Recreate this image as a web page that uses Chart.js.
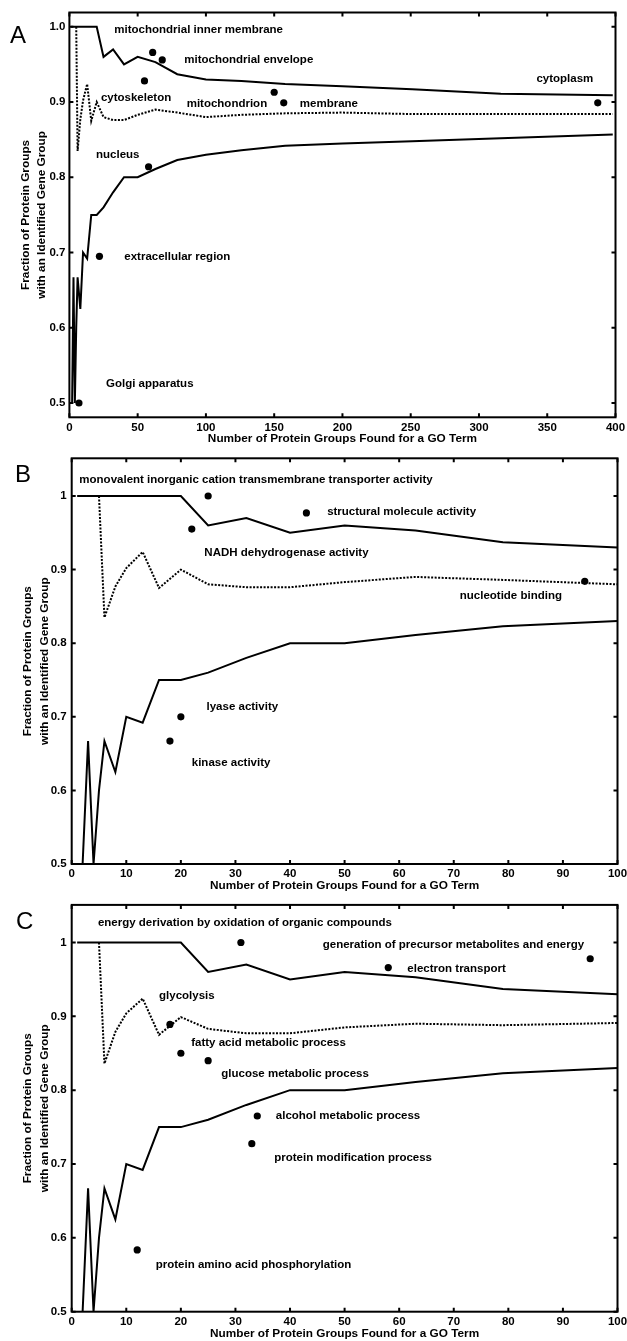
<!DOCTYPE html>
<html lang="en">
<head>
    <meta charset="UTF-8">
    <title>GO term identification fractions</title>
    <script src="https://cdn.jsdelivr.net/npm/chart.js"></script>
    <style>
        html, body { margin: 0; padding: 0; background: #fff; }
        #page { position: relative; width: 627px; height: 1341px; overflow: hidden; }
        .panel { position: absolute; left: 0; width: 627px; }
        .letter { position: absolute; font: 24px "Liberation Sans", Arial, sans-serif; line-height: 1; color: #000; }
    </style>
</head>
<body>
<div id="page">
    <div class="panel" style="top:0px;height:446px"><canvas id="chartA" width="627" height="446"></canvas></div>
    <div class="panel" style="top:446px;height:447px"><canvas id="chartB" width="627" height="447"></canvas></div>
    <div class="panel" style="top:893px;height:448px"><canvas id="chartC" width="627" height="448"></canvas></div>
    <div class="letter" style="left:10px;top:23px">A</div>
    <div class="letter" style="left:15px;top:462px">B</div>
    <div class="letter" style="left:16px;top:909px">C</div>
</div>

<script>
    // bins (number of protein groups) used by the reference curves
    const bins = [1, 2, 3, 4, 5, 6, 8, 10, 13, 16, 20, 25, 32, 40, 50, 63, 79, 100, 126, 158, 200, 251, 316, 398];

    // upper and lower solid curves (same in every panel)
    const upperCurve = [1, 1, 1, 1, 1, 1, 1, 1, 1, 1, 1, 0.960, 0.970, 0.950, 0.960, 0.953, 0.937, 0.930, 0.928, 0.924, 0.921, 0.917, 0.911, 0.909];
    const lowerCurve = [null, 0.5, 0.667, 0.5, 0.6, 0.667, 0.625, 0.700, 0.692, 0.750, 0.750, 0.760, 0.780, 0.800, 0.800, 0.811, 0.823, 0.830, 0.836, 0.842, 0.845, 0.848, 0.852, 0.857];

    // dotted curves
    const dottedAB = [null, null, null, null, 1, 0.835, 0.877, 0.902, 0.924, 0.875, 0.900, 0.880, 0.876, 0.876, 0.883, 0.890, 0.886, 0.880, 0.883, 0.885, 0.886, 0.884, 0.884, 0.884];
    const dottedC = [null, null, null, null, 1, 0.836, 0.879, 0.904, 0.924, 0.875, 0.899, 0.883, 0.877, 0.877, 0.885, 0.890, 0.888, 0.891];

    // panel A: cellular component terms
    const termsA = ['mitochondrial inner membrane', 'mitochondrial envelope', 'cytoskeleton', 'mitochondrion', 'membrane', 'cytoplasm', 'nucleus', 'extracellular region', 'Golgi apparatus'];
    const countsA = [61, 68, 55, 150, 157, 387, 58, 22, 7];
    const fracA = [0.966, 0.956, 0.928, 0.913, 0.899, 0.899, 0.814, 0.695, 0.500];
    const labelXA = [32.9, 84.1, 23.1, 85.9, 168.8, 342.1, 19.5, 40.2, 26.8];
    const labelYA = [0.9956, 0.956, 0.905, 0.898, 0.898, 0.9305, 0.830, 0.6946, 0.525];

    // panel B: molecular function terms
    const termsB = ['monovalent inorganic cation transmembrane transporter activity', 'NADH dehydrogenase activity', 'structural molecule activity', 'nucleotide binding', 'lyase activity', 'kinase activity'];
    const countsB = [25, 22, 43, 94, 20, 18];
    const fracB = [1.000, 0.955, 0.977, 0.884, 0.700, 0.667];
    const labelXB = [1.4, 24.3, 46.8, 71.1, 24.7, 22.0];
    const labelYB = [1.0217, 0.923, 0.9787, 0.8646, 0.713, 0.637];

    // panel C: biological process terms
    const termsC = ['energy derivation by oxidation of organic compounds', 'generation of precursor metabolites and energy', 'electron transport', 'glycolysis', 'fatty acid metabolic process', 'glucose metabolic process', 'alcohol metabolic process', 'protein modification process', 'protein amino acid phosphorylation'];
    const countsC = [31, 95, 58, 18, 20, 25, 34, 33, 12];
    const fracC = [1.000, 0.978, 0.966, 0.889, 0.850, 0.840, 0.765, 0.7275, 0.5836];
    const labelXC = [4.8, 46.0, 61.5, 16.0, 21.9, 27.4, 37.4, 37.1, 15.4];
    const labelYC = [1.0265, 0.997, 0.9648, 0.9277, 0.864, 0.8227, 0.765, 0.7085, 0.5633];

    // tick labels
    const xTicksA = [0, 50, 100, 150, 200, 250, 300, 350, 400];
    const xTicksBC = [0, 10, 20, 30, 40, 50, 60, 70, 80, 90, 100];
    const yTicks = [0.5, 0.6, 0.7, 0.8, 0.9, 1.0];

    const FONT = '"Liberation Sans", Arial, Helvetica, sans-serif';
    Chart.defaults.font.family = FONT;
    Chart.defaults.color = '#000';

    function points(ys, xMax) {
        const pts = [];
        ys.forEach((y, i) => {
            if (y !== null && bins[i] <= xMax) pts.push({ x: bins[i], y: y });
        });
        return pts;
    }

    // frame with inward ticks on all four sides
    const framePlugin = {
        id: 'frame',
        afterDatasetsDraw(chart) {
            const { ctx, chartArea: a, scales } = chart;
            ctx.save();
            ctx.strokeStyle = '#000';
            ctx.lineWidth = 2;
            ctx.strokeRect(a.left, a.top, a.right - a.left, a.bottom - a.top);
            ctx.beginPath();
            scales.x.ticks.forEach(t => {
                const px = scales.x.getPixelForValue(t.value);
                ctx.moveTo(px, a.bottom); ctx.lineTo(px, a.bottom - 4);
                ctx.moveTo(px, a.top); ctx.lineTo(px, a.top + 4);
            });
            scales.y.ticks.forEach(t => {
                const py = scales.y.getPixelForValue(t.value);
                ctx.moveTo(a.left, py); ctx.lineTo(a.left + 4, py);
                ctx.moveTo(a.right, py); ctx.lineTo(a.right - 4, py);
            });
            ctx.stroke();
            ctx.restore();
        }
    };

    function makePanel(id, cfg) {
        const termPlugin = {
            id: 'terms',
            afterDatasetsDraw(chart) {
                const { ctx, scales } = chart;
                ctx.save();
                ctx.font = 'bold 11.5px ' + FONT;
                ctx.fillStyle = '#000';
                ctx.textAlign = 'left';
                ctx.textBaseline = 'middle';
                cfg.terms.forEach((t, i) => {
                    ctx.fillText(t, scales.x.getPixelForValue(cfg.labelX[i]), scales.y.getPixelForValue(cfg.labelY[i]));
                });
                ctx.restore();
            }
        };

        const dots = cfg.counts.map((c, i) => ({ x: c, y: cfg.fracs[i] }));

        new Chart(document.getElementById(id).getContext('2d'), {
            type: 'line',
            data: {
                datasets: [
                    { data: points(upperCurve, cfg.xMax), borderColor: '#000', borderWidth: 2, pointRadius: 0, tension: 0 },
                    { data: points(cfg.dotted, cfg.xMax), borderColor: '#000', borderWidth: 2, borderDash: [2, 1.5], pointRadius: 0, tension: 0 },
                    { data: points(lowerCurve, cfg.xMax), borderColor: '#000', borderWidth: 2, pointRadius: 0, tension: 0 },
                    { type: 'scatter', data: dots, pointRadius: 3.6, backgroundColor: '#000', borderWidth: 0 }
                ]
            },
            options: {
                responsive: false,
                animation: false,
                devicePixelRatio: 1,
                layout: { padding: { top: cfg.padTop, right: cfg.padRight, left: 0, bottom: 0 } },
                plugins: { legend: { display: false }, tooltip: { enabled: false } },
                scales: {
                    x: {
                        type: 'linear', min: 0, max: cfg.xMax,
                        grid: { display: false, drawTicks: false },
                        border: { display: false },
                        ticks: { font: { size: 11.5, weight: 'bold' }, padding: cfg.xTickPad, maxRotation: 0, autoSkip: false },
                        afterBuildTicks: s => { s.ticks = cfg.xTicks.map(v => ({ value: v })); },
                        afterFit: s => { s.height = cfg.xAxisH; s.paddingLeft = 0; s.paddingRight = 0; },
                        title: { display: true, text: 'Number of Protein Groups Found for a GO Term', font: { size: 11.8, weight: 'bold' }, padding: 0 }
                    },
                    y: {
                        type: 'linear', min: cfg.yMin, max: cfg.yMax,
                        grid: { display: false, drawTicks: false },
                        border: { display: false },
                        ticks: {
                            font: { size: 11.5, weight: 'bold' }, padding: cfg.yTickPad,
                            callback: v => cfg.oneDecimal ? v.toFixed(1) : String(Math.round(v * 10) / 10)
                        },
                        afterBuildTicks: s => { s.ticks = yTicks.map(v => ({ value: v })); },
                        afterFit: s => { s.width = cfg.yAxisW; },
                        title: {
                            display: true,
                            text: ['Fraction of Protein Groups', 'with an Identified Gene Group'],
                            font: { size: 11.8, weight: 'bold', lineHeight: 1.4 },
                            padding: { top: cfg.yTitlePad, bottom: 0 }
                        }
                    }
                }
            },
            plugins: [framePlugin, termPlugin]
        });
    }

    makePanel('chartA', {
        xMax: 400, xTicks: xTicksA, yMin: 0.481, yMax: 1.019, oneDecimal: true,
        dotted: dottedAB, terms: termsA, counts: countsA, fracs: fracA, labelX: labelXA, labelY: labelYA,
        padTop: 12.5, padRight: 11.5, xAxisH: 28.7, yAxisW: 69.4, xTickPad: 4, yTickPad: 4, yTitlePad: 17
    });
    makePanel('chartB', {
        xMax: 100, xTicks: xTicksBC, yMin: 0.5, yMax: 1.0512, oneDecimal: false,
        dotted: dottedAB, terms: termsB, counts: countsB, fracs: fracB, labelX: labelXB, labelY: labelYB,
        padTop: 12.3, padRight: 9.5, xAxisH: 29, yAxisW: 71.7, xTickPad: 3, yTickPad: 5, yTitlePad: 19.7
    });
    makePanel('chartC', {
        xMax: 100, xTicks: xTicksBC, yMin: 0.5, yMax: 1.0509, oneDecimal: false,
        dotted: dottedC, terms: termsC, counts: countsC, fracs: fracC, labelX: labelXC, labelY: labelYC,
        padTop: 11.7, padRight: 9.5, xAxisH: 29.3, yAxisW: 71.7, xTickPad: 3, yTickPad: 5, yTitlePad: 19.7
    });
</script>
</body>
</html>
